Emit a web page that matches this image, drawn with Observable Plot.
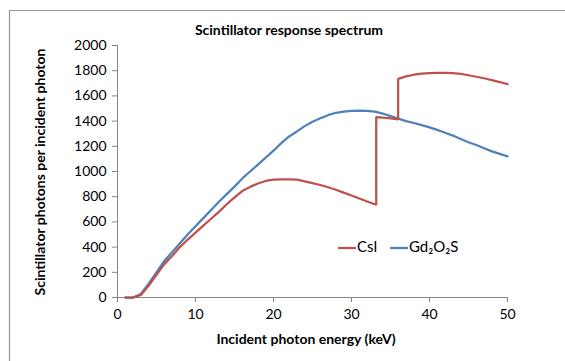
<!DOCTYPE html>
<html>
<head>
<meta charset="utf-8">
<script src="https://cdn.jsdelivr.net/npm/d3@7"></script>
<script src="https://cdn.jsdelivr.net/npm/@observablehq/plot@0.6"></script>
<style>
  html, body { margin: 0; padding: 0; background: #fff; }
  #chart { width: 565px; height: 361px; }
</style>
</head>
<body>
<div id="chart"></div>
<script>
// ---- data ----
const gdEnergy = [1,2,3,4,5,6,7,8,9,10,11,12,13,14,15,16,17,18,19,20,21,22,23,24,25,26,27,28,29,30,31,32,33,34,35,36,37,38,39,40,41,42,43,44,45,46,47,48,49,50];
const gdValues = [0,0,28,110,200,290,360,430,500,565,630,695,760,820,880,945,1000,1055,1110,1165,1225,1278,1318,1360,1395,1422,1447,1466,1476,1482,1484,1482,1475,1460,1440,1420,1400,1385,1368,1350,1330,1308,1285,1258,1232,1210,1185,1160,1140,1120];
const csiEnergy = [1,2,3,4,5,6,7,8,9,10,11,12,13,14,15,16,17,18,19,20,21,22,23,24,25,26,27,28,29,30,31,32,33,33.17,33.17,34,35,35.98,35.98,37,38,39,40,41,42,43,44,45,46,47,48,49,50];
const csiValues = [0,0,20,95,180,265,330,400,460,515,570,625,680,740,795,845,878,905,925,935,938,938,935,922,907,893,875,855,832,810,786,762,740,736,1432,1428,1422,1414,1735,1755,1768,1776,1780,1782,1782,1780,1774,1764,1752,1740,1725,1710,1693];
const seriesNames = ["CsI", "Gd\u2082O\u2082S"];
const xTicks = [0,10,20,30,40,50];
const yTicks = [0,200,400,600,800,1000,1200,1400,1600,1800,2000];

const csiData = csiEnergy.map((e, i) => ({energy: e, value: csiValues[i]}));
const gdData = gdEnergy.map((e, i) => ({energy: e, value: gdValues[i]}));

const RED = "#C0504D", BLUE = "#4F81BD", AXIS = "#868686";
const FONT = "Lato, 'Open Sans', sans-serif";

const plot = Plot.plot({
  width: 565,
  height: 361,
  marginLeft: 117,
  marginRight: 58,
  marginTop: 45,
  marginBottom: 64,
  style: {fontFamily: FONT, fontSize: "14px", color: "#000", background: "#fff", overflow: "visible"},
  x: {domain: [0, 50]},
  y: {domain: [0, 2000]},
  marks: [
    Plot.axisX({ticks: xTicks, tickFormat: d3.format("d"), tickSize: 5, tickPadding: 7, stroke: AXIS, label: null, fill: "#000"}),
    Plot.axisY({ticks: yTicks, tickFormat: d3.format("d"), tickSize: 5, tickPadding: 6, stroke: AXIS, label: null, fill: "#000"}),
    Plot.ruleY([0], {stroke: AXIS}),
    Plot.ruleX([0], {stroke: AXIS}),
    Plot.line(gdData, {x: "energy", y: "value", stroke: BLUE, strokeWidth: 2.25, strokeLinejoin: "round"}),
    Plot.line(csiData, {x: "energy", y: "value", stroke: RED, strokeWidth: 2.25, strokeLinejoin: "miter"})
  ]
});

const svg = d3.select(plot);
// frame border (top and left, as in the reference crop)
svg.insert("path", ":first-child")
  .attr("d", "M9.5,361 L9.5,10.5 L565,10.5")
  .attr("fill", "none").attr("stroke", "#999").attr("stroke-width", 1.2);

svg.append("text").attr("x", 289).attr("y", 31)
  .attr("text-anchor", "middle").attr("dominant-baseline", "middle")
  .attr("font-family", FONT).attr("font-weight", "bold").attr("font-size", 14)
  .text("Scintillator response spectrum");

svg.append("text").attr("x", 306).attr("y", 340)
  .attr("text-anchor", "middle").attr("dominant-baseline", "middle")
  .attr("font-family", FONT).attr("font-weight", "bold").attr("font-size", 14)
  .text("Incident photon energy (keV)");

svg.append("text").attr("transform", "translate(41,172) rotate(-90)")
  .attr("text-anchor", "middle").attr("dominant-baseline", "middle")
  .attr("font-family", FONT).attr("font-weight", "bold").attr("font-size", 14)
  .text("Scintillator photons per incident photon");

// legend
const legend = [
  {name: seriesNames[0], color: RED, x: 338},
  {name: seriesNames[1], color: BLUE, x: 390}
];
legend.forEach(d => {
  svg.append("line").attr("x1", d.x).attr("x2", d.x + 18).attr("y1", 248).attr("y2", 248)
    .attr("stroke", d.color).attr("stroke-width", 2.25);
  svg.append("text").attr("x", d.x + 19).attr("y", 248)
    .attr("text-anchor", "start").attr("dominant-baseline", "middle")
    .attr("font-family", FONT).attr("font-size", 15)
    .text(d.name);
});

document.getElementById("chart").appendChild(plot);
</script>
</body>
</html>
